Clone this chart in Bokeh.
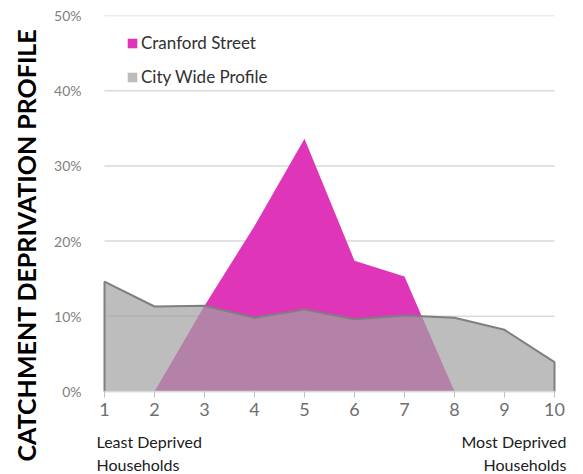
from bokeh.plotting import figure
from bokeh.models import (FixedTicker, PrintfTickFormatter, Legend, LegendItem,
                          Label, Range1d, ColumnDataSource)
from bokeh.embed import file_html
from bokeh.resources import INLINE

deciles = [1, 2, 3, 4, 5, 6, 7, 8, 9, 10]
cranford = [0, 0, 11.4, 22.0, 33.6, 17.4, 15.3, 0, 0, 0]
city = [14.6, 11.3, 11.4, 9.8, 10.9, 9.6, 10.1, 9.8, 8.2, 3.9]
y_ticks = [0, 10, 20, 30, 40, 50]
series_names = ["Cranford Street", "City Wide Profile"]
left_note = "Least Deprived"
right_note = "Most Deprived"
note_line2 = "Households"
y_title = "CATCHMENT DEPRIVATION PROFILE"

FONT = "Lato"

# frame extends past the data so notes/labels are not clipped; x axis pinned at y = 0
p = figure(width=583, height=474, output_backend="svg", toolbar_location=None,
           x_range=Range1d(0.76, 10.58), y_range=Range1d(-11.04, 50),
           min_border_left=92, min_border_right=0, min_border_top=15,
           min_border_bottom=0)
p.outline_line_color = None
p.background_fill_color = "white"

# horizontal grid lines spanning the data extent only
p.xgrid.grid_line_color = None
p.ygrid.grid_line_color = None
p.segment(x0=[deciles[0]] * len(y_ticks), x1=[deciles[-1]] * len(y_ticks),
          y0=y_ticks, y1=y_ticks, line_color="#D9D9D9", line_width=1.5)

src = ColumnDataSource(dict(x=deciles, c=cranford, g=city, z=[0] * len(deciles)))

pink = p.varea(x="x", y1="z", y2="c", source=src, fill_color="#DF36B9", fill_alpha=1.0)
grey = p.varea(x="x", y1="z", y2="g", source=src, fill_color="#A1A1A1", fill_alpha=0.7)
gx = [deciles[0]] + deciles + [deciles[-1]]
gy = [0] + city + [0]
p.line(gx, gy, line_color="#7F7F7F", line_width=2)

# y axis
p.yaxis.ticker = FixedTicker(ticks=y_ticks)
p.yaxis.formatter = PrintfTickFormatter(format="%d%%")
p.yaxis.axis_line_color = None
p.yaxis.major_tick_line_color = None
p.yaxis.minor_tick_line_color = None
p.yaxis.major_label_standoff = 5
p.yaxis.major_label_text_font = FONT
p.yaxis.major_label_text_font_size = "14px"
p.yaxis.major_label_text_color = "#808080"
p.yaxis.axis_label = y_title
p.yaxis.axis_label_text_font = FONT
p.yaxis.axis_label_text_font_style = "bold"
p.yaxis.axis_label_text_font_size = "25px"
p.yaxis.axis_label_text_color = "#000000"
p.yaxis.axis_label_standoff = 10

# x axis
p.xaxis.fixed_location = 0
p.xaxis.bounds = (deciles[0], deciles[-1])
p.xaxis.ticker = FixedTicker(ticks=deciles)
p.xaxis.axis_line_color = "#D9D9D9"
p.xaxis.axis_line_width = 1.5
p.xaxis.major_tick_line_color = "#BFBFBF"
p.xaxis.major_tick_out = 6
p.xaxis.major_tick_in = 0
p.xaxis.minor_tick_line_color = None
p.xaxis.major_label_standoff = 6
p.xaxis.major_label_text_font = FONT
p.xaxis.major_label_text_font_size = "18px"
p.xaxis.major_label_text_color = "#6E6E6E"

# notes under the axis
for txt, yv in [(left_note, -6.65), (note_line2, -9.7)]:
    p.add_layout(Label(x=deciles[0], y=yv, text=txt, x_offset=-8,
                       text_align="left", text_baseline="middle",
                       text_font=FONT, text_font_size="16px", text_color="#202020"))
for txt, yv in [(right_note, -6.65), (note_line2, -9.7)]:
    p.add_layout(Label(x=deciles[-1], y=yv, text=txt, x_offset=12,
                       text_align="right", text_baseline="middle",
                       text_font=FONT, text_font_size="16px", text_color="#202020"))

legend = Legend(items=[LegendItem(label=series_names[0], renderers=[pink]),
                       LegendItem(label=series_names[1], renderers=[grey])],
                location=(34, 387), orientation="vertical")
legend.border_line_color = None
legend.background_fill_alpha = 0
legend.padding = 0
legend.margin = 0
legend.spacing = 13
legend.glyph_width = 12
legend.glyph_height = 12
legend.label_standoff = 3
legend.label_text_font = FONT
legend.label_text_font_size = "17px"
legend.label_text_color = "#303030"
legend.label_height = 20
p.add_layout(legend)

open("out.html", "w").write(file_html(p, INLINE))
